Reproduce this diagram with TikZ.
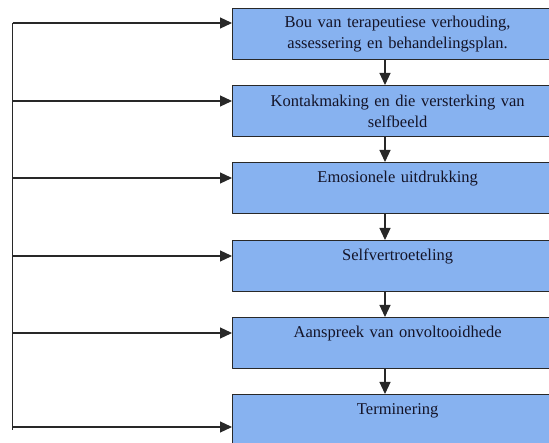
\documentclass[tikz,border=0pt]{standalone}
\usepackage{fontspec}
\setmainfont{Liberation Serif}
\usetikzlibrary{arrows.meta,positioning,calc}
\definecolor{boxblue}{RGB}{135,178,240}
\definecolor{lijn}{RGB}{40,40,40}
\definecolor{skrif}{RGB}{20,20,40}
\tikzset{
  fase/.style={draw=lijn, line width=1.3pt, fill=boxblue, anchor=north west,
    minimum width=330pt, minimum height=51pt, inner sep=0pt, text width=320pt,
    align=center, text=skrif, font=\fontsize{16.5}{21}\selectfont},
  een/.style={text height=11pt, text depth=22pt},
  pyl/.style={draw=lijn, line width=1.2pt, -{Triangle[length=12pt,width=11pt]}}
}
\begin{document}
\begin{tikzpicture}[x=1pt, y=1pt, line join=round]
\useasboundingbox (0,0) rectangle (549,-443);
\clip (0,0) rectangle (549,-443);
\fill[white] (0,0) rectangle (549,-443);
% fases
\node[fase] (bou) at (232,-8) {Bou van terapeutiese verhouding,\\ assessering en behandelingsplan.};
\node[fase] (kontak) at (232,-85) {Kontakmaking en die versterking van\\ selfbeeld};
\node[fase, een] (emosie) at (232,-162) {Emosionele uitdrukking};
\node[fase, een] (vertroetel) at (232,-240) {Selfvertroeteling};
\node[fase, een] (aanspreek) at (232,-317) {Aanspreek van onvoltooidhede};
\node[fase, een] (termineer) at (232,-394) {Terminering};
% kolom vir die pyle
\coordinate (as) at (385,0);
\draw[pyl] (bou.south -| as) -- (kontak.north -| as);
\draw[pyl] (kontak.south -| as) -- (emosie.north -| as);
\draw[pyl] (emosie.south -| as) -- (vertroetel.north -| as);
\draw[pyl] (vertroetel.south -| as) -- (aanspreek.north -| as);
\draw[pyl] (aanspreek.south -| as) -- (termineer.north -| as);
% terugvoer
\coordinate (L1) at (12.5,-23);
\coordinate (L2) at (12.5,-101);
\coordinate (L3) at (12.5,-178);
\coordinate (L4) at (12.5,-256);
\coordinate (L5) at (12.5,-333);
\coordinate (L6) at (12.5,-427);
\draw[draw=lijn, line width=1.2pt] (L1) -- ([yshift=-3pt]L6);
\draw[pyl] (L1) -- (L1 -| bou.west);
\draw[pyl] (L2) -- (L2 -| kontak.west);
\draw[pyl] (L3) -- (L3 -| emosie.west);
\draw[pyl] (L4) -- (L4 -| vertroetel.west);
\draw[pyl] (L5) -- (L5 -| aanspreek.west);
\draw[pyl] (L6) -- (L6 -| termineer.west);
\end{tikzpicture}
\end{document}
